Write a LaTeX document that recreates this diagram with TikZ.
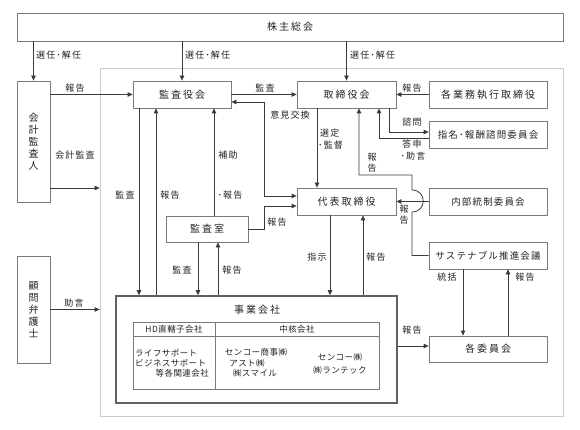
\documentclass[tikz,border=0pt]{standalone}
\usepackage{fontspec}
\setmainfont{Noto Sans CJK JP}
\newfontfamily\jpbox[LetterSpace=20]{Noto Sans CJK JP}
\newfontfamily\jplab[LetterSpace=12]{Noto Sans CJK JP}
\newfontfamily\jpsm[LetterSpace=5]{Noto Sans CJK JP}
\usetikzlibrary{arrows.meta}
\definecolor{boxgray}{HTML}{7A7A7A}
\definecolor{linegray}{HTML}{3A3A3A}
\definecolor{framegray}{HTML}{CACACA}
\definecolor{txt}{HTML}{222222}
\begin{document}
\begin{tikzpicture}[x=1pt,y=-1pt,
  box/.style={draw=boxgray, line width=0.8pt, rectangle, inner sep=0pt, text=txt,
    font=\jpbox\fontsize{10}{12}\selectfont, align=center},
  lab/.style={inner sep=0pt, text=txt, font=\jplab\fontsize{9}{11}\selectfont, align=center},
  sm/.style={inner sep=0pt, text=txt, font=\jpsm\fontsize{8.5}{10}\selectfont},
  conn/.style={draw=linegray, line width=0.8pt},
  tip/.tip={Triangle[length=5pt,width=4.5pt]},
  arr/.style={conn, -tip},
  darr/.style={conn, tip-tip}
]
\useasboundingbox (0,0) rectangle (580,430);
% frame
\node[draw=framegray, line width=0.8pt, minimum width=463pt, minimum height=348pt, inner sep=0pt] (frame) at (331.5,242) {};

% boxes
\node[box, minimum width=546pt, minimum height=28pt] (kabu) at (290,27) {株主総会};
\node[box, minimum width=33pt, minimum height=121pt] (kaikei) at (33.5,141.5) {会\\計\\監\\査\\人};
\node[box, minimum width=33pt, minimum height=107pt] (komon) at (33.5,309.5) {顧\\問\\弁\\護\\士};
\node[box, minimum width=98pt, minimum height=27pt] (kanyaku) at (182,94.5) {監査役会};
\node[box, minimum width=99pt, minimum height=27pt] (torishimari) at (346.5,94.5) {取締役会};
\node[box, minimum width=99pt, minimum height=27pt] (daihyo) at (346.5,201.5) {代表取締役};
\node[box, minimum width=118pt, minimum height=27pt] (gyomu) at (488,94.5) {各業務執行取締役};
\node[box, minimum width=118pt, minimum height=27pt, font=\jplab\fontsize{9.5}{11}\selectfont] (shimei) at (488,134.5) {指名･報酬諮問委員会};
\node[box, minimum width=118pt, minimum height=27pt, font=\jplab\fontsize{9.5}{11}\selectfont] (naibu) at (488,201.5) {内部統制委員会};
\node[box, minimum width=118pt, minimum height=27pt, font=\jplab\fontsize{9.5}{11}\selectfont] (sus) at (488,255.5) {サステナブル推進会議};
\node[box, minimum width=118pt, minimum height=26pt] (kaku) at (488,349) {各委員会};
\node[box, minimum width=82pt, minimum height=26pt] (kansashitsu) at (207,229) {監査室};
\node[box, draw=linegray!80, line width=1.6pt, minimum width=281pt, minimum height=107pt] (jigyo) at (256.5,349.5) {};
\node[lab, font=\jpbox\fontsize{10}{12}\selectfont] (jigyot) at (257,310) {事業会社};

% inner table
\draw[boxgray, line width=0.7pt] (133,322) rectangle (379,389);
\draw[boxgray, line width=0.7pt] (133,336) -- (379,336);
\draw[boxgray, line width=0.7pt] (215,322) -- (215,389);
\node[sm] (hd) at (174,329) {HD直轄子会社};
\node[sm] (chukaku) at (297,329) {中核会社};
\node[sm, anchor=west] (l1) at (135,353) {ライフサポート};
\node[sm, anchor=west] (l2) at (135,363) {ビジネスサポート};
\node[sm, anchor=east] (l3) at (209,373) {等各関連会社};
\node[sm] (r1) at (256,352) {センコー商事㈱};
\node[sm] (r2) at (247,363) {アスト㈱};
\node[sm] (r3) at (255,373) {㈱スマイル};
\node[sm] (r4) at (340,357) {センコー㈱};
\node[sm] (r5) at (340,370) {㈱ランテック};

% connectors
\draw[arr] (kabu.south -| kaikei.north) -- (kaikei.north);
\draw[arr] (kabu.south -| kanyaku.north) -- (kanyaku.north);
\draw[arr] (kabu.south -| torishimari.north) -- (torishimari.north);
\draw[arr] (kaikei.east |- kanyaku.west) -- (kanyaku.west);
\draw[arr] (kaikei.east |- 0,188) -- (frame.west |- 0,188);
\draw[arr] (komon.east) -- (frame.west |- komon.east);
\draw[arr] (kanyaku.east) -- (torishimari.west);
\draw[darr] (kanyaku.east |- 0,102) -- (264,102) -- (264,196) -- (daihyo.west |- 0,196);
\draw[arr] (gyomu.west) -- (torishimari.east);
\draw[arr] (torishimari.south -| 389,0) -- (389,132) -- (shimei.west |- 0,132);
\draw[arr] (shimei.west |- 0,138) -- (379,138) -- (torishimari.south -| 379,0);
\draw[arr] (torishimari.south -| 317,0) -- (daihyo.north -| 317,0);
\draw[arr] (naibu.west) -- (daihyo.east);
\draw[arr] (sus.west) -- (412,255.5) -- (412,212) .. controls (427,212) and (427,190) .. (412,190) -- (412,175) -- (359,175) -- (torishimari.south -| 359,0);
\draw[arr] (kansashitsu.north -| 214,0) -- (kanyaku.south -| 214,0);
\draw[arr] (kanyaku.south -| 139,0) -- (jigyo.north -| 139,0);
\draw[arr] (jigyo.north -| 156,0) -- (kanyaku.south -| 156,0);
\draw[arr] (kansashitsu.east |- 0,229) -- (264,229) -- (264,206) -- (daihyo.west |- 0,206);
\draw[arr] (kansashitsu.south -| 198,0) -- (jigyo.north -| 198,0);
\draw[arr] (jigyo.north -| 218,0) -- (kansashitsu.south -| 218,0);
\draw[arr] (daihyo.south -| 330,0) -- (jigyo.north -| 330,0);
\draw[arr] (jigyo.north -| 363,0) -- (daihyo.south -| 363,0);
\draw[arr] (jigyo.east |- 0,346) -- (kaku.west |- 0,346);
\draw[arr] (sus.south -| 463,0) -- (kaku.north -| 463,0);
\draw[arr] (kaku.north -| 508,0) -- (sus.south -| 508,0);

% labels
\node[lab, anchor=west] (t1) at (36,55) {選任･解任};
\node[lab, anchor=west] (t2) at (185,55) {選任･解任};
\node[lab, anchor=west] (t3) at (350,55) {選任･解任};
\node[lab] (t4) at (75,88) {報告};
\node[lab] (t5) at (75,155) {会計監査};
\node[lab] (t6) at (74,303) {助言};
\node[lab] (t7) at (265,88) {監査};
\node[lab] (t8) at (290,115) {意見交換};
\node[lab] (t9) at (412,88) {報告};
\node[lab] (t10) at (412,122) {諮問};
\node[lab] (t11) at (412,144.5) {答申};
\node[lab] (t12) at (413,156) {･助言};
\node[lab, anchor=west] (t13) at (320,133) {選定};
\node[lab, anchor=west] (t14) at (318,145) {･監督};
\node[lab] (t15) at (372,162.5) {報\\告};
\node[lab] (t16) at (404,215) {報\\告};
\node[lab] (t17) at (228,155) {補助};
\node[lab] (t18) at (230,195) {･報告};
\node[lab] (t19) at (125,195) {監査};
\node[lab] (t20) at (170,195) {報告};
\node[lab] (t21) at (277,222) {報告};
\node[lab] (t22) at (182,270) {監査};
\node[lab] (t23) at (232,270) {報告};
\node[lab] (t24) at (317,257) {指示};
\node[lab] (t25) at (376,257) {報告};
\node[lab] (t26) at (412,330) {報告};
\node[lab] (t27) at (447,277) {統括};
\node[lab] (t28) at (525,277) {報告};
\end{tikzpicture}
\end{document}
